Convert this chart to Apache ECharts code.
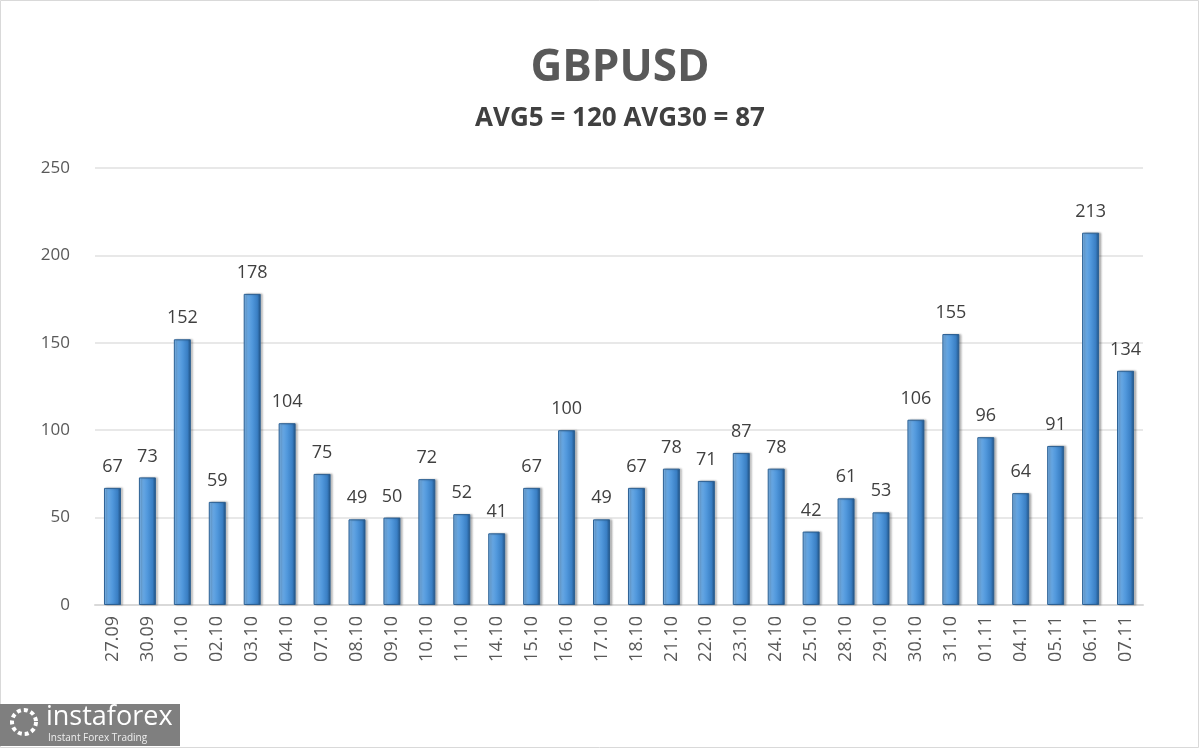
<!DOCTYPE html>
<html>
<head>
<meta charset="utf-8">
<script src="https://cdn.jsdelivr.net/npm/echarts@6/dist/echarts.min.js"></script>
<style>
  html, body { margin: 0; padding: 0; background: #fff; }
  #chart { width: 1200px; height: 749px; }
</style>
</head>
<body>
<div id="chart"></div>
<script>
// 日期与数值
var dates = ["27.09", "30.09", "01.10", "02.10", "03.10", "04.10", "07.10", "08.10", "09.10", "10.10",
  "11.10", "14.10", "15.10", "16.10", "17.10", "18.10", "21.10", "22.10", "23.10", "24.10",
  "25.10", "28.10", "29.10", "30.10", "31.10", "01.11", "04.11", "05.11", "06.11", "07.11"];
var values = [67, 73, 152, 59, 178, 104, 75, 49, 50, 72,
  52, 41, 67, 100, 49, 67, 78, 71, 87, 78,
  42, 61, 53, 106, 155, 96, 64, 91, 213, 134];
var yTicks = [0, 50, 100, 150, 200, 250];

var chart = echarts.init(document.getElementById("chart"));
chart.setOption({
  animation: false,
  backgroundColor: "#fff",
  title: {
    text: "GBPUSD",
    subtext: "AVG5 = 120 AVG30 = 87",
    left: 615,
    textAlign: "center",
    top: 41,
    itemGap: 16,
    textStyle: { fontFamily: "Open Sans", fontWeight: "bold", fontSize: 44, color: "#595959" },
    subtextStyle: { fontFamily: "Open Sans", fontWeight: "bold", fontSize: 26, color: "#404040" }
  },
  grid: { left: 95, right: 57, top: 168, bottom: 144 },
  xAxis: {
    type: "category",
    data: dates,
    axisTick: { show: false },
    axisLine: { lineStyle: { color: "#d9d9d9", width: 2 } },
    axisLabel: {
      rotate: 90,
      margin: 11,
      fontFamily: "Open Sans",
      fontSize: 18,
      color: "#595959"
    }
  },
  yAxis: {
    type: "value",
    min: yTicks[0],
    max: yTicks[yTicks.length - 1],
    interval: 50,
    axisLine: { show: false },
    axisTick: { show: false },
    axisLabel: { margin: 25, fontFamily: "Open Sans", fontSize: 17, color: "#595959" },
    splitLine: { lineStyle: { color: "#e0e0e0", width: 1.5 } }
  },
  series: [{
    type: "bar",
    data: values,
    barWidth: 17,
    itemStyle: {
      color: new echarts.graphic.LinearGradient(0, 0, 1, 0, [
        { offset: 0, color: "#7db6ea" },
        { offset: 0.5, color: "#5198dc" },
        { offset: 0.8, color: "#3a7fc4" },
        { offset: 1, color: "#1f4f80" }
      ]),
      borderColor: "#2b5f92",
      borderWidth: 1,
      shadowColor: "rgba(0,0,0,0.25)",
      shadowOffsetX: 2,
      shadowBlur: 2
    },
    label: {
      show: true,
      position: "top",
      distance: 12,
      fontFamily: "Open Sans",
      fontSize: 18,
      color: "#404040"
    }
  }],
  graphic: [
    {
      type: "rect",
      shape: { x: 0.5, y: 0.5, width: 1198, height: 747 },
      style: { fill: "none", stroke: "#d9d9d9", lineWidth: 1 }
    },
    {
      type: "rect",
      shape: { x: 0, y: 704, width: 180, height: 42 },
      style: { fill: "#7f7f7f" }
    },
    {
      type: "circle",
      shape: { cx: 24, cy: 722, r: 12 },
      style: { fill: "none", stroke: "#fff", lineWidth: 4, lineDash: [4, 3] }
    },
    {
      type: "text",
      left: 46,
      top: 704,
      style: { text: "instaforex", fontFamily: "Open Sans", fontSize: 27, fill: "#fff" }
    },
    {
      type: "text",
      left: 48,
      top: 733,
      style: { text: "Instant Forex Trading", fontFamily: "Open Sans", fontSize: 10, fill: "#eee" }
    }
  ]
});
</script>
</body>
</html>
